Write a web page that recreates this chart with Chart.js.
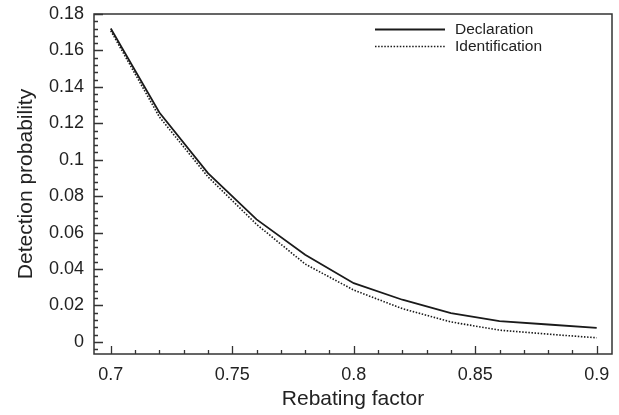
<!DOCTYPE html>
<html><head><meta charset="utf-8">
<script src="https://cdn.jsdelivr.net/npm/chart.js@4/dist/chart.umd.min.js"></script>
<style>html,body{margin:0;padding:0;background:#fff}#wrap{width:619px;height:415px;position:relative}</style>
</head><body><div id="wrap"><canvas id="c"></canvas></div>
<script>
const rebatingFactor = [0.70, 0.72, 0.74, 0.76, 0.78, 0.80, 0.82, 0.84, 0.86, 0.88, 0.90];
const declaration    = [0.1720, 0.1259, 0.0926, 0.0672, 0.0478, 0.0322, 0.0231, 0.0158, 0.0114, 0.0095, 0.0076];
const identification = [0.1708, 0.1235, 0.0906, 0.0645, 0.0427, 0.0284, 0.0182, 0.0109, 0.0064, 0.0042, 0.0022];
const seriesNames = ['Declaration', 'Identification'];
const xTickValues = [0.7, 0.75, 0.8, 0.85, 0.9];
const yTickValues = [0, 0.02, 0.04, 0.06, 0.08, 0.1, 0.12, 0.14, 0.16, 0.18];
const xAxisTitle = 'Rebating factor';
const yAxisTitle = 'Detection probability';

const INK = '#222';
const FONT = '"Liberation Sans", Arial, sans-serif';

function toPoints(xs, ys) { return xs.map((x, i) => ({ x: x, y: ys[i] })); }

const framePlugin = {
  id: 'frame',
  afterDraw(chart) {
    const ctx = chart.ctx, a = chart.chartArea;
    const xs = chart.scales.x, ys = chart.scales.y;
    ctx.save();
    ctx.strokeStyle = '#333';
    ctx.lineWidth = 1.5;
    ctx.strokeRect(a.left, a.top, a.right - a.left, a.bottom - a.top);
    ctx.lineWidth = 1.3;
    ctx.beginPath();
    const xMinor = 0.01;
    for (let k = Math.ceil(xs.min / xMinor); k <= Math.floor(xs.max / xMinor); k++) {
      const v = k * xMinor;
      const major = Math.abs(v * 20 - Math.round(v * 20)) < 1e-6;
      const px = Math.round(xs.getPixelForValue(v)) + 0.5;
      ctx.moveTo(px, a.bottom);
      ctx.lineTo(px, a.bottom - (major ? 8 : 4));
    }
    const yMinor = 0.004;
    for (let k = Math.ceil(ys.min / yMinor); k <= Math.floor(ys.max / yMinor); k++) {
      const v = k * yMinor;
      const major = (k % 5) === 0;
      const py = Math.round(ys.getPixelForValue(v)) + 0.5;
      ctx.moveTo(a.left, py);
      ctx.lineTo(a.left + (major ? 9 : 4), py);
    }
    ctx.stroke();
    const ds = chart.data.datasets;
    const lx0 = a.right - 237, lx1 = a.right - 167, tx = a.right - 157;
    ds.forEach((d, i) => {
      const y = Math.round(a.top + 15 + i * 16.5) + 0.5;
      ctx.beginPath();
      ctx.strokeStyle = d.borderColor;
      ctx.lineWidth = d.borderWidth;
      ctx.setLineDash(d.borderDash || []);
      ctx.moveTo(lx0, y); ctx.lineTo(lx1, y);
      ctx.stroke();
      ctx.setLineDash([]);
      ctx.fillStyle = INK;
      ctx.font = '15.5px ' + FONT;
      ctx.textBaseline = 'middle';
      ctx.textAlign = 'left';
      ctx.fillText(d.label, tx, y);
    });
    ctx.restore();
  }
};

new Chart(document.getElementById('c'), {
  type: 'line',
  data: {
    datasets: [
      { label: seriesNames[0], data: toPoints(rebatingFactor, declaration), borderColor: '#1a1a1a', borderWidth: 1.8, pointRadius: 0, tension: 0, fill: false },
      { label: seriesNames[1], data: toPoints(rebatingFactor, identification), borderColor: '#1a1a1a', borderWidth: 1.6, borderDash: [1.5, 1.6], pointRadius: 0, tension: 0, fill: false }
    ]
  },
  options: {
    responsive: true,
    maintainAspectRatio: false,
    animation: false,
    layout: { padding: { top: 14, right: 7, left: 0, bottom: 0 } },
    plugins: { legend: { display: false }, tooltip: { enabled: false } },
    scales: {
      x: {
        type: 'linear', min: 0.6931, max: 0.9063,
        afterBuildTicks: s => { s.ticks = xTickValues.map(v => ({ value: v })); },
        afterFit: s => { s.height = 61; s.paddingLeft = 0; s.paddingRight = 0; },
        grid: { display: false, drawTicks: false },
        border: { display: false },
        ticks: { autoSkip: false, maxRotation: 0, padding: 10, color: INK, font: { family: FONT, size: 18 }, callback: v => String(v) },
        title: { display: true, text: xAxisTitle, color: INK, font: { family: FONT, size: 21 }, padding: { top: 0, bottom: 3 } }
      },
      y: {
        type: 'linear', min: -0.0067, max: 0.18,
        afterBuildTicks: s => { s.ticks = yTickValues.map(v => ({ value: v })); },
        afterFit: s => { s.width = 94; s.paddingTop = 0; s.paddingBottom = 0; },
        grid: { display: false, drawTicks: false },
        border: { display: false },
        ticks: { autoSkip: false, padding: 10, color: INK, font: { family: FONT, size: 18 }, callback: v => String(v) },
        title: { display: true, text: yAxisTitle, color: INK, font: { family: FONT, size: 21 }, padding: { top: 14, bottom: 0 } }
      }
    }
  },
  plugins: [framePlugin]
});
</script>
</body></html>
